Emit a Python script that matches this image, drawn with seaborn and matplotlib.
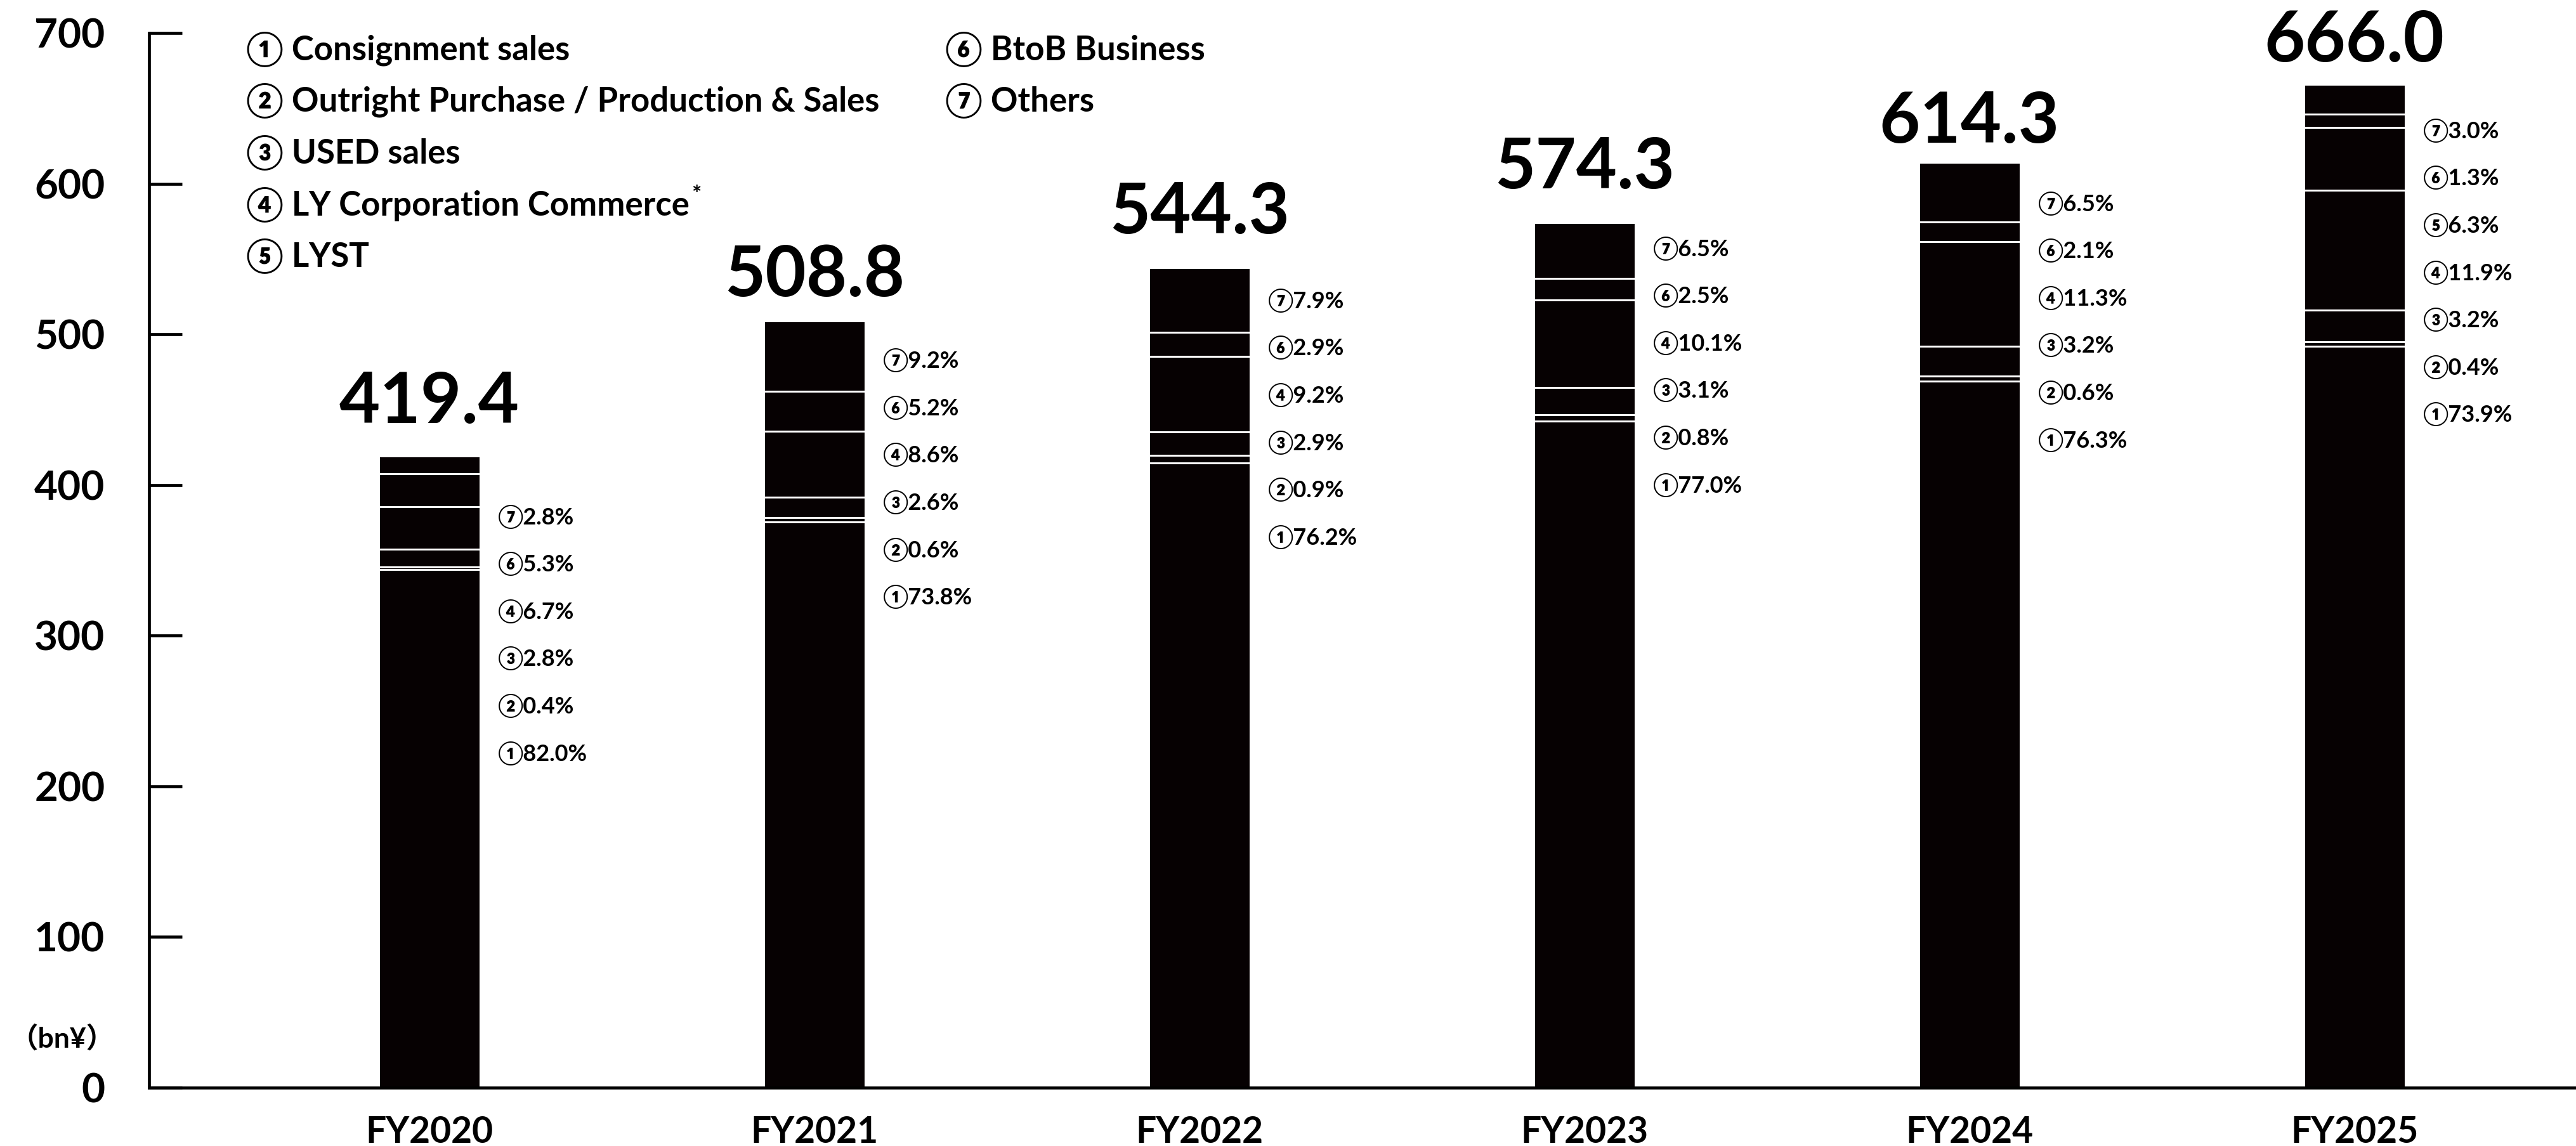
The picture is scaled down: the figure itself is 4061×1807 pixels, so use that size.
import numpy as np
import pandas as pd
import matplotlib
matplotlib.use("Agg")
import matplotlib.pyplot as plt
import seaborn as sns

# ---- data -------------------------------------------------------------
years = ["FY2020", "FY2021", "FY2022", "FY2023", "FY2024", "FY2025"]
totals = [419.4, 508.8, 544.3, 574.3, 614.3, 666.0]          # bn yen

# share of each business in the yearly total (%), None = not reported
consignment = [82.0, 73.8, 76.2, 77.0, 76.3, 73.9]   # ①
outright = [0.4, 0.6, 0.9, 0.8, 0.6, 0.4]            # ②
used_sales = [2.8, 2.6, 2.9, 3.1, 3.2, 3.2]          # ③
ly_commerce = [6.7, 8.6, 9.2, 10.1, 11.3, 11.9]      # ④
lyst = [None, None, None, None, None, 6.3]           # ⑤
btob = [5.3, 5.2, 2.9, 2.5, 2.1, 1.3]                # ⑥
others = [2.8, 9.2, 7.9, 6.5, 6.5, 3.0]              # ⑦

circled = ["①", "②", "③", "④", "⑤", "⑥", "⑦"]
segment_names = ["Consignment sales",
                 "Outright Purchase / Production & Sales",
                 "USED sales",
                 "LY Corporation Commerce",
                 "LYST",
                 "BtoB Business",
                 "Others"]
y_ticks = [0, 100, 200, 300, 400, 500, 600, 700]
unit_label = "（bn¥）"

# ---- styling ----------------------------------------------------------
W, H = 4062, 1807
DPI = 100
PX = 72.0 / DPI                      # points per pixel
AX_LEFT, AX_BOTTOM, AX_TOP = 235, 1715, 52   # axes frame in pixels

sns.set_theme(style="white")
FAM = ["Lato", "Noto Sans CJK JP", "DejaVu Sans"]
plt.rcParams.update({
    "font.family": FAM,
    "font.weight": "bold",
    "xtick.bottom": False,
    "ytick.left": False,
})

BAR = "#060102"

fig = plt.figure(figsize=(W / DPI, H / DPI), dpi=DPI)
fig.patch.set_facecolor("white")
ax = fig.add_axes([AX_LEFT / W, 1 - AX_BOTTOM / H, 1 - AX_LEFT / W,
                   (AX_BOTTOM - AX_TOP) / H])
ax.set_facecolor("white")

series = [consignment, outright, used_sales, ly_commerce, lyst, btob, others]
shares = pd.DataFrame({c: [np.nan if v is None else v for v in s]
                       for c, s in zip(circled, series)}, index=years)
values = shares.fillna(0.0).mul(pd.Series(totals, index=years), axis=0) / 100.0
cumulative = values.cumsum(axis=1)

bar_w = 0.264
# stacked bars: draw the taller cumulative layers first, white edges split them
for col in reversed(cumulative.columns):
    layer = pd.DataFrame({"year": years, "value": cumulative[col].values})
    sns.barplot(data=layer, x="year", y="value", color=BAR, saturation=1,
                width=bar_w, edgecolor="white", linewidth=2.2, ax=ax,
                zorder=2)

ax.set_xlim(-0.728, 5.577)
ax.set_ylim(0, 700)
ax.set_xlabel("")
ax.set_ylabel("")
ax.set_yticks(y_ticks)
ax.set_yticklabels([str(t) for t in y_ticks])

for side in ["top", "right"]:
    ax.spines[side].set_visible(False)
for side in ["left", "bottom"]:
    ax.spines[side].set_visible(True)
    ax.spines[side].set_color("black")
    ax.spines[side].set_linewidth(3.4)
    ax.spines[side].set_zorder(5)

ax.tick_params(axis="y", length=0, pad=50, labelsize=46)
ax.tick_params(axis="x", length=0, pad=32, labelsize=41)
for lbl in ax.get_yticklabels() + ax.get_xticklabels():
    lbl.set_fontweight("bold")
    lbl.set_fontfamily(FAM)
    lbl.set_color("black")

# inward tick marks on the value axis
tick_len_frac = 52 / (W - AX_LEFT)
ax.hlines(y_ticks, 0, tick_len_frac, transform=ax.get_yaxis_transform(),
          colors="black", linewidth=3.4, clip_on=False, zorder=6)

# total above each bar
total_gap_px = [52, 39, 54, 54, 31, 36]
for i, tot in enumerate(totals):
    ax.annotate(f"{tot:.1f}", xy=(i, tot), xytext=(0, total_gap_px[i] * PX),
                textcoords="offset points", ha="center", va="baseline",
                fontsize=80, fontweight="bold", color="black")

# share labels to the right of each bar (top segment first)
label_drop_px = [96, 62, 52, 41, 65, 73]
label_step_px = 74.6
for i, year in enumerate(years):
    row = shares.loc[year]
    items = [(c, row[c]) for c in reversed(shares.columns) if not np.isnan(row[c])]
    for k, (c, v) in enumerate(items):
        dy = -(label_drop_px[i] + k * label_step_px) * PX
        ax.annotate(f"{c}{v:.1f}%", xy=(i + bar_w / 2, totals[i]),
                    xytext=(20, dy), textcoords="offset points",
                    ha="left", va="center", fontsize=26,
                    fontweight="bold", color="black")

# category key in two columns
key_rows_px = [77, 158, 240, 322, 403]
key_cols_px = [388, 1490]
renderer = fig.canvas.get_renderer()
for idx, (c, name) in enumerate(zip(circled, segment_names)):
    col = 0 if idx < 5 else 1
    row = idx if idx < 5 else idx - 5
    x = key_cols_px[col] / W
    y = 1 - key_rows_px[row] / H
    t = fig.text(x, y, f"{c} {name}", ha="left", va="center",
                 fontsize=38, fontweight="bold", color="black")
    if name == "LY Corporation Commerce":
        bb = t.get_window_extent(renderer=renderer)
        fig.text((bb.x1 + 3) / W, y + 14 / H, "*", ha="left", va="center",
                 fontsize=26, fontweight="bold", color="black")

fig.text(98 / W, 1 - 1637 / H, unit_label, ha="center", va="center",
         fontsize=32, fontweight="bold", color="black")

fig.savefig("out.png", dpi=DPI, facecolor="white")
